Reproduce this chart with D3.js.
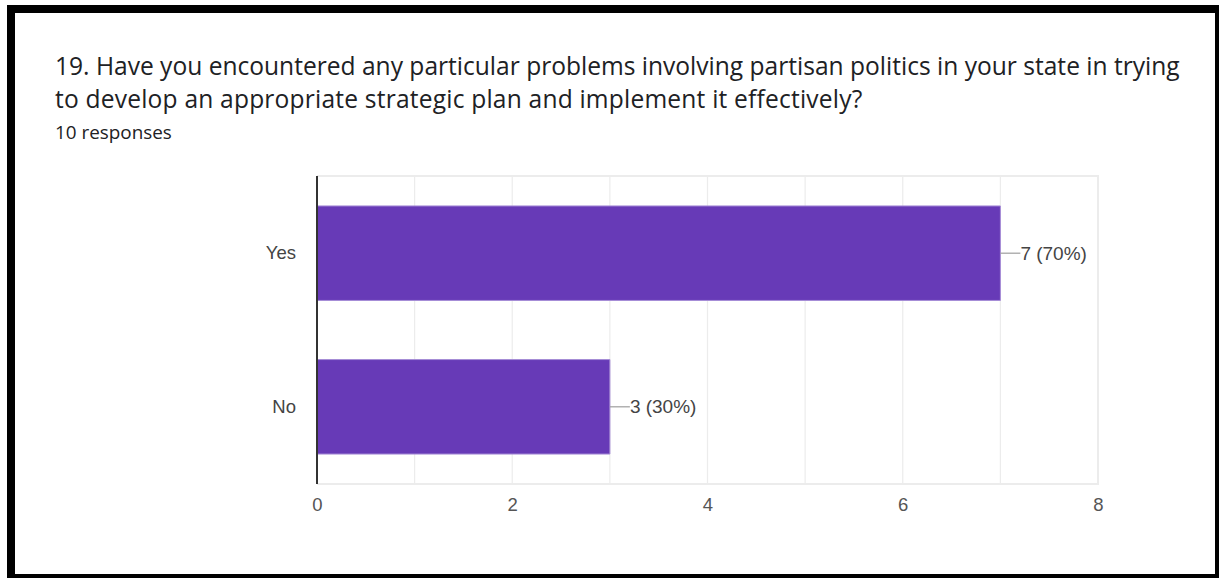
<!DOCTYPE html>
<html>
<head>
<meta charset="utf-8">
<script src="https://cdn.jsdelivr.net/npm/d3@7"></script>
<style>
  html, body { margin: 0; padding: 0; background: #fff; }
  svg { display: block; }
</style>
</head>
<body>
<svg id="chart" width="1225" height="578"></svg>
<script>
// Survey question and response counts
const titleLines = [
  "19. Have you encountered any particular problems involving partisan politics in your state in trying",
  "to develop an appropriate strategic plan and implement it effectively?"
];
const subtitle = "10 responses";
const categories = ["Yes", "No"];
const counts = [7, 3];
const totalResponses = 10;
const xTicks = [0, 2, 4, 6, 8];
const gridValues = [0, 1, 2, 3, 4, 5, 6, 7, 8];

const svg = d3.select("#chart");
const W = 1225, H = 578;

svg.append("rect").attr("width", W).attr("height", H).attr("fill", "#fff");

// Card frame
const frame = svg.append("g").attr("fill", "#000");
frame.append("rect").attr("x", 7).attr("y", 5).attr("width", 1212).attr("height", 8);
frame.append("rect").attr("x", 7).attr("y", 5).attr("width", 8).attr("height", 573);
frame.append("rect").attr("x", 1215).attr("y", 5).attr("width", 4).attr("height", 571);
frame.append("rect").attr("x", 7).attr("y", 574).attr("width", 1212).attr("height", 4);

// Title, fitted to its line width
const titleFont = "'Open Sans', Roboto, sans-serif";
const t1 = svg.append("text")
  .attr("x", 55).attr("y", 75)
  .attr("font-family", titleFont).attr("font-size", 24)
  .attr("fill", "#202124")
  .text(titleLines[0]);
const w1 = t1.node().getComputedTextLength();
const titleSize = 24 * 1125 / w1;
t1.attr("font-size", titleSize);
svg.append("text")
  .attr("x", 55).attr("y", 108)
  .attr("font-family", titleFont).attr("font-size", titleSize)
  .attr("fill", "#202124")
  .attr("letter-spacing", 0.2)
  .text(titleLines[1]);
const sub = svg.append("text")
  .attr("x", 55).attr("y", 139)
  .attr("font-family", titleFont).attr("font-size", 16)
  .attr("fill", "#202124")
  .text(subtitle);
sub.attr("font-size", 16 * 117 / sub.node().getComputedTextLength());

// Plot area
const plot = { left: 317, right: 1098, top: 176, bottom: 484 };
const x = d3.scaleLinear().domain([0, 8]).range([plot.left, plot.right]);
const y = d3.scaleBand().domain(categories).range([plot.top, plot.bottom])
  .paddingInner(0.385).paddingOuter(0.195);

const labelFont = "'Liberation Sans', Arial, sans-serif";

// Gridlines
svg.append("g").selectAll("line").data(gridValues).join("line")
  .attr("x1", d => x(d)).attr("x2", d => x(d))
  .attr("y1", plot.top).attr("y2", plot.bottom)
  .attr("stroke", "#ececec").attr("stroke-width", d => d === 8 ? 2 : 1.2);
svg.append("line")
  .attr("x1", plot.left).attr("x2", plot.right + 1)
  .attr("y1", plot.top).attr("y2", plot.top)
  .attr("stroke", "#ececec").attr("stroke-width", 2);
svg.append("line")
  .attr("x1", plot.left).attr("x2", plot.right + 1)
  .attr("y1", plot.bottom).attr("y2", plot.bottom)
  .attr("stroke", "#ececec").attr("stroke-width", 2);

// Bars
const bars = svg.append("g");
categories.forEach((c, i) => {
  const y0 = y(c), bh = y.bandwidth();
  bars.append("rect")
    .attr("x", x(0)).attr("y", y0)
    .attr("width", x(counts[i]) - x(0)).attr("height", bh)
    .attr("fill", "#673ab7");
  // light edge on top and bottom of each bar
  [y0, y0 + bh].forEach(yy => bars.append("line")
    .attr("x1", x(0)).attr("x2", x(counts[i]))
    .attr("y1", yy).attr("y2", yy)
    .attr("stroke", "#a58bd6").attr("stroke-width", 1));
  bars.append("line")
    .attr("x1", x(counts[i])).attr("x2", x(counts[i]))
    .attr("y1", y0).attr("y2", y0 + bh)
    .attr("stroke", "#a58bd6").attr("stroke-width", 1);

  // Leader line and value label
  const cy = y0 + bh / 2;
  bars.append("line")
    .attr("x1", x(counts[i])).attr("x2", x(counts[i]) + 20)
    .attr("y1", cy).attr("y2", cy)
    .attr("stroke", "#9e9e9e").attr("stroke-width", 1.2);
  bars.append("text")
    .attr("x", x(counts[i]) + 20).attr("y", cy)
    .attr("dy", "0.35em")
    .attr("font-family", labelFont).attr("font-size", 19)
    .attr("fill", "#444")
    .text(`${counts[i]} (${Math.round(counts[i] / totalResponses * 100)}%)`);
});

// Y axis (category labels)
const yAxis = d3.axisLeft(y).tickSize(0).tickPadding(21);
const yg = svg.append("g").attr("transform", `translate(${plot.left},0)`).call(yAxis);
yg.select(".domain").remove();
yg.selectAll("text")
  .attr("font-family", labelFont).attr("font-size", 18.5).attr("fill", "#444");
svg.append("line")
  .attr("x1", plot.left).attr("x2", plot.left)
  .attr("y1", plot.top).attr("y2", plot.bottom)
  .attr("stroke", "#333").attr("stroke-width", 2);

// X axis
const xAxis = d3.axisBottom(x).tickValues(xTicks).tickSize(0).tickPadding(14);
const xg = svg.append("g").attr("transform", `translate(0,${plot.bottom})`).call(xAxis);
xg.select(".domain").remove();
xg.selectAll("text")
  .attr("font-family", labelFont).attr("font-size", 18.5).attr("fill", "#555");
</script>
</body>
</html>
